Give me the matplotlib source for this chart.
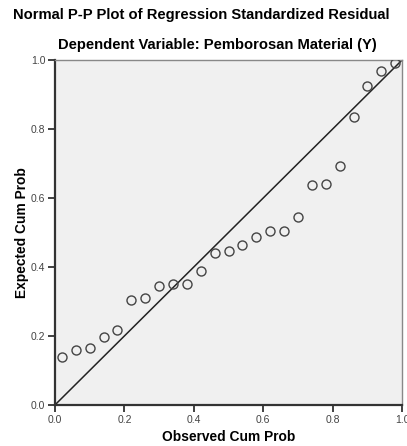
import matplotlib.pyplot as plt

# observed cumulative probability of the 25 residuals, (i - 0.5) / n
observed = [0.02, 0.06, 0.10, 0.14, 0.18, 0.22, 0.26, 0.30, 0.34, 0.38,
            0.42, 0.46, 0.50, 0.54, 0.58, 0.62, 0.66, 0.70, 0.74, 0.78,
            0.82, 0.86, 0.90, 0.94, 0.98]
expected = [0.140, 0.158, 0.166, 0.197, 0.217, 0.304, 0.311, 0.346, 0.351, 0.352,
            0.388, 0.441, 0.446, 0.464, 0.486, 0.504, 0.504, 0.546, 0.638, 0.640,
            0.692, 0.834, 0.926, 0.968, 0.992]
ticks = [0.0, 0.2, 0.4, 0.6, 0.8, 1.0]
tick_labels = ["0.0", "0.2", "0.4", "0.6", "0.8", "1.0"]

plt.rcParams["font.family"] = ["Liberation Sans", "DejaVu Sans"]

fig = plt.figure(figsize=(4.07, 4.46), dpi=100)
ax = fig.add_axes([0.135, 0.092, 0.853, 0.7735])
ax.set_facecolor("#f0f0f0")

ax.plot([0, 1], [0, 1], color="#222222", linewidth=1.1, zorder=2)
ax.plot(observed, expected, linestyle="none", marker="o", markersize=6.5,
        markerfacecolor="none", markeredgecolor="#444444", markeredgewidth=1.0,
        zorder=3)

ax.set_xlim(0, 1)
ax.set_ylim(0, 1)
ax.set_xticks(ticks)
ax.set_xticklabels(tick_labels)
ax.set_yticks(ticks)
ax.set_yticklabels(tick_labels)
ax.tick_params(direction="out", length=5, width=1.3, color="#333333",
               labelsize=7.5, labelcolor="#444444", pad=2)

for side in ["left", "bottom"]:
    ax.spines[side].set_color("#333333")
    ax.spines[side].set_linewidth(1.6)
for side in ["top", "right"]:
    ax.spines[side].set_color("#888888")
    ax.spines[side].set_linewidth(1.0)

ax.set_xlabel("Observed Cum Prob", fontsize=9.9, fontweight="bold", labelpad=4)
ax.set_ylabel("Expected Cum Prob", fontsize=9.9, fontweight="bold", labelpad=1)

fig.text(0.495, 0.966, "Normal P-P Plot of Regression Standardized Residual",
         ha="center", va="center", fontsize=10.6, fontweight="bold")
fig.text(0.533, 0.899, "Dependent Variable: Pemborosan Material (Y)",
         ha="center", va="center", fontsize=10.6, fontweight="bold")

fig.savefig("out.png", dpi=100)
